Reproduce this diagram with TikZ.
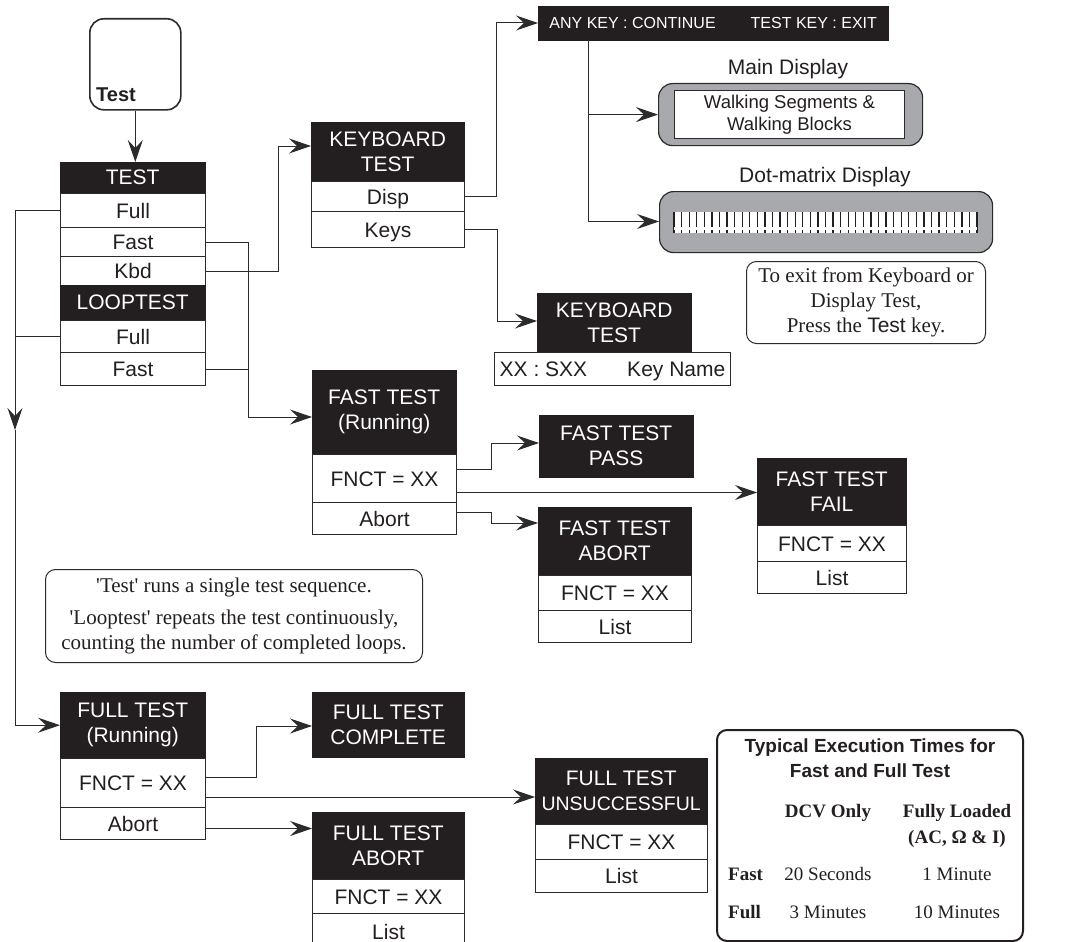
\documentclass[tikz,border=0pt]{standalone}
\usepackage{fontspec}
\setmainfont{Liberation Serif}
\setsansfont{Liberation Sans}
\usetikzlibrary{arrows.meta,calc}
\definecolor{hdrc}{HTML}{231F20}
\definecolor{linec}{HTML}{2B2B2B}
\definecolor{grayd}{HTML}{A7A9AC}
\newcommand{\mysf}[2]{\sffamily\fontsize{#1}{#2}\selectfont}
\newcommand{\myrm}[2]{\rmfamily\fontsize{#1}{#2}\selectfont}
\begin{document}
\begin{tikzpicture}[x=1pt,y=-1pt,
  hdr/.style={fill=hdrc, draw=hdrc, text=white, font=\mysf{21}{25}, align=center, inner sep=0pt, anchor=north west},
  row/.style={fill=white, draw=linec, line width=1pt, text=hdrc, font=\mysf{21}{25}, align=center, inner sep=0pt, anchor=north west, text height=15pt, text depth=0pt},
  arr/.style={-{Stealth[length=22pt,width=15pt,inset=8pt]}, line width=1pt, draw=linec},
  conn/.style={line width=1pt, draw=linec},
  disp/.style={draw=linec, fill=grayd, rounded corners=14pt, line width=1.2pt, anchor=north west, inner sep=0pt},
  note/.style={draw=linec, rounded corners=10pt, line width=1pt, anchor=north west, inner sep=0pt, align=center, text=hdrc},
  lbl/.style={inner sep=0pt, text=hdrc}
]
\useasboundingbox (0,0) rectangle (1085,942);

% Test key
\node[draw=linec, line width=1.6pt, rounded corners=14pt, minimum width=91pt, minimum height=91pt, anchor=north west, inner sep=0pt] (key) at (89,18) {};
\node[lbl, anchor=base west, font=\bfseries\mysf{20}{24}] (keylbl) at (96,102) {Test};

% TEST / LOOPTEST menu
\node[hdr, minimum width=145pt, minimum height=31pt] (thdr) at (60,162) {TEST};
\node[row, minimum width=145pt, minimum height=34pt] (tfull) at (60,193) {Full};
\node[row, minimum width=145pt, minimum height=29pt] (tfast) at (60,227) {Fast};
\node[row, minimum width=145pt, minimum height=29pt] (tkbd) at (60,256) {Kbd};
\node[hdr, minimum width=145pt, minimum height=35pt] (lhdr) at (60,285) {LOOPTEST};
\node[row, minimum width=145pt, minimum height=32pt] (lfull) at (60,320) {Full};
\node[row, minimum width=145pt, minimum height=33pt] (lfast) at (60,352) {Fast};

% KEYBOARD TEST
\node[hdr, minimum width=153pt, minimum height=59pt] (kbhdr) at (311,122) {KEYBOARD\\TEST};
\node[row, minimum width=153pt, minimum height=30pt] (kbdisp) at (311,181) {Disp};
\node[row, minimum width=153pt, minimum height=36pt] (kbkeys) at (311,211) {Keys};

% ANY KEY bar
\node[hdr, minimum width=350pt, minimum height=34pt, font=\mysf{16}{19}] (anybar) at (538,6) {ANY KEY : CONTINUE\hspace{35pt}TEST KEY : EXIT};

% Main display
\node[lbl, font=\mysf{21}{25}] (mainlbl) at (788,69) {Main Display};
\node[disp, minimum width=264pt, minimum height=62pt] (maindisp) at (658,83) {};
\node[draw=linec, fill=white, line width=1pt, minimum width=230pt, minimum height=48pt, anchor=north west, font=\mysf{18.5}{22}, align=center, inner sep=0pt, text=hdrc] (mainin) at (674,90) {Walking Segments \&\\Walking Blocks};

% Dot-matrix display
\node[lbl, font=\mysf{21}{25}] (dotlbl) at (825,177) {Dot-matrix Display};
\node[disp, minimum width=333pt, minimum height=61pt] (dotdisp) at (659,191) {};
\fill[white] (674,212) rectangle (977,233);
\foreach \i in {0,...,40} \draw[line width=1.3pt, hdrc] (674+\i*7.575,212) -- (674+\i*7.575,233);
\draw[white, line width=2.2pt] (674,228.5) -- (977,228.5);

% exit note
\node[note, minimum width=239pt, minimum height=82pt, font=\myrm{21}{25}] (exitnote) at (746,261) {To exit from Keyboard or\\Display Test,\\Press the {\sffamily Test} key.};

% KEYBOARD TEST 2
\node[hdr, minimum width=154pt, minimum height=59pt] (kb2hdr) at (537,293) {KEYBOARD\\TEST};
\node[row, minimum width=236pt, minimum height=33pt] (kb2row) at (494,352) {XX : SXX\hspace{40pt}Key Name};

% FAST TEST running
\node[hdr, minimum width=144pt, minimum height=84pt] (fthdr) at (312,370) {FAST TEST\\(Running)};
\node[row, minimum width=144pt, minimum height=48pt] (ftfnct) at (312,454) {FNCT = XX};
\node[row, minimum width=144pt, minimum height=32pt] (ftabort) at (312,502) {Abort};

% FAST TEST PASS
\node[hdr, minimum width=154pt, minimum height=62pt] (passhdr) at (539,415) {FAST TEST\\PASS};

% FAST TEST ABORT
\node[hdr, minimum width=153pt, minimum height=68pt] (fabhdr) at (538,507) {FAST TEST\\ABORT};
\node[row, minimum width=153pt, minimum height=35pt] (fabfnct) at (538,575) {FNCT = XX};
\node[row, minimum width=153pt, minimum height=32pt] (fablist) at (538,610) {List};

% FAST TEST FAIL
\node[hdr, minimum width=149pt, minimum height=67pt] (failhdr) at (757,458) {FAST TEST\\FAIL};
\node[row, minimum width=149pt, minimum height=36pt] (failfnct) at (757,525) {FNCT = XX};
\node[row, minimum width=149pt, minimum height=32pt] (faillist) at (757,561) {List};

% loop note
\node[note, minimum width=377pt, minimum height=93pt, font=\myrm{21}{25}] (loopnote) at (45,569) {\textquotesingle Test\textquotesingle\ runs a single test sequence.\\[7pt]\textquotesingle Looptest\textquotesingle\ repeats the test continuously,\\counting the number of completed loops.};

% FULL TEST running
\node[hdr, minimum width=145pt, minimum height=66pt] (frhdr) at (60,692) {FULL TEST\\(Running)};
\node[row, minimum width=145pt, minimum height=49pt] (frfnct) at (60,758) {FNCT = XX};
\node[row, minimum width=145pt, minimum height=32pt] (frabort) at (60,807) {Abort};

% FULL TEST COMPLETE
\node[hdr, minimum width=152pt, minimum height=65pt] (fchdr) at (312,692) {FULL TEST\\COMPLETE};

% FULL TEST ABORT
\node[hdr, minimum width=152pt, minimum height=67pt] (fuabhdr) at (312,812) {FULL TEST\\ABORT};
\node[row, minimum width=152pt, minimum height=34pt] (fuabfnct) at (312,879) {FNCT = XX};
\node[row, minimum width=152pt, minimum height=37pt] (fuablist) at (312,913) {List};

% FULL TEST UNSUCCESSFUL
\node[hdr, minimum width=172pt, minimum height=66pt, font=\mysf{19.5}{25}] (unshdr) at (535,758) {\fontsize{21}{25}\selectfont FULL TEST\\UNSUCCESSFUL};
\node[row, minimum width=172pt, minimum height=35pt] (unsfnct) at (535,824) {FNCT = XX};
\node[row, minimum width=172pt, minimum height=33pt] (unslist) at (535,859) {List};

% Table
\node[draw=hdrc, line width=2pt, rounded corners=10pt, minimum width=306pt, minimum height=211pt, anchor=north west, inner sep=0pt] (tbl) at (716,729) {};
\node[lbl, font=\bfseries\mysf{19}{25}, align=center] (ttitle) at (870,758) {Typical Execution Times for\\Fast and Full Test};
\node[lbl, font=\bfseries\myrm{19}{26}, anchor=base] (tdcv) at (828,817) {DCV Only};
\node[lbl, font=\bfseries\myrm{19}{26}, anchor=base] (tfully) at (957,817) {Fully Loaded};
\node[lbl, font=\bfseries\myrm{19}{26}, anchor=base] (tfullyb) at (957,843) {(AC, Ω \& I)};
\node[lbl, font=\bfseries\myrm{19}{26}, anchor=base west] (rowfast) at (728,880) {Fast};
\node[lbl, font=\myrm{19}{26}, anchor=base] (rowfast1) at (828,880) {20 Seconds};
\node[lbl, font=\myrm{19}{26}, anchor=base] (rowfast2) at (957,880) {1 Minute};
\node[lbl, font=\bfseries\myrm{19}{26}, anchor=base west] (rowfull) at (728,918) {Full};
\node[lbl, font=\myrm{19}{26}, anchor=base] (rowfull1) at (828,918) {3 Minutes};
\node[lbl, font=\myrm{19}{26}, anchor=base] (rowfull2) at (957,918) {10 Minutes};

% ---- connectors ----
\draw[arr] (key.south) -- (key.south |- thdr.north);
\coordinate (vl) at (15,430);
\draw[arr] (tfull.west) -| (vl);
\draw[arr] (vl) |- (frhdr.west);
\draw[conn] (lfull.west) -- (lfull.west -| vl);

\coordinate (vr) at (248,417);
\draw[arr] (tfast.east) -| (vr) -- (vr -| fthdr.west);
\draw[conn] (lfast.east) -- (lfast.east -| vr);
\coordinate (kv) at (278,146);
\draw[arr] (tkbd.east) -| (kv) -- (kv -| kbhdr.west);

\coordinate (dv) at (496,23);
\draw[arr] (kbdisp.east) -| (dv) -- (dv -| anybar.west);
\coordinate (kk) at (497,321);
\draw[arr] (kbkeys.east) -| (kk) -- (kk -| kb2hdr.west);

\coordinate (av) at (588,221.5);
\draw[conn] (av |- anybar.south) -- (av);
\draw[arr] (av |- maindisp.west) -- (maindisp.west);
\draw[arr] (av) -- (av -| dotdisp.west);

\coordinate (pv) at (491,443);
\draw[arr] ($(ftfnct.east)+(0,-9)$) -| (pv) -- (pv -| passhdr.west);
\coordinate (fl) at ($(ftfnct.east)+(0,14)$);
\draw[arr] (fl) -- (fl -| failhdr.west);
\coordinate (av2) at (491,523);
\draw[arr] ($(ftabort.east)+(0,-6)$) -| (av2) -- (av2 -| fabhdr.west);

\coordinate (cv) at (256,726);
\draw[arr] ($(frfnct.east)+(0,-5.5)$) -| (cv) -- (cv -| fchdr.west);
\coordinate (ul) at ($(frfnct.east)+(0,14)$);
\draw[arr] (ul) -- (ul -| unshdr.west);
\coordinate (fa) at ($(frabort.east)+(0,5)$);
\draw[arr] (fa) -- (fa -| fuabhdr.west);
\end{tikzpicture}
\end{document}
